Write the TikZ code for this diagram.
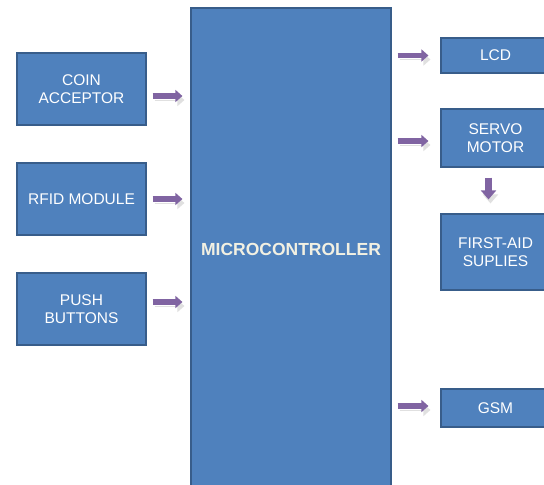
\documentclass[tikz,border=0pt]{standalone}
\usepackage{fontspec}
\setmainfont{Liberation Sans}
\usetikzlibrary{arrows.meta}
\definecolor{boxblue}{HTML}{4F81BD}
\definecolor{boxline}{HTML}{385D8A}
\definecolor{flowpurple}{HTML}{8064A2}
\definecolor{mcutext}{HTML}{F2F0E2}

\tikzset{
  block/.style={draw=boxline,line width=1.2pt,fill=boxblue,text=white,align=center,
    font=\fontsize{15.5}{17.5}\selectfont,inner sep=0pt},
  flow/.style={draw=flowpurple,line width=5.5pt,-{Triangle[width=12pt,length=7pt]},
    preaction={draw=black!12,transform canvas={shift={(2pt,-4pt)}}}}
}

\begin{document}
\begin{tikzpicture}[x=1pt,y=-1pt]
    \fill[white] (0,0) rectangle (544,485);
    \useasboundingbox (0,0) rectangle (544,485);
    % inputs
    \node[block,minimum width=129pt,minimum height=72pt](coin) at (81.5,89) {COIN\\ACCEPTOR};
    \node[block,minimum width=129pt,minimum height=72pt](rfid) at (81.5,199) {RFID MODULE};
    \node[block,minimum width=129pt,minimum height=72pt](push) at (81.5,309) {PUSH\\BUTTONS};
    % controller
    \node[block,minimum width=200pt,minimum height=482pt,text=mcutext,
      font=\fontsize{17.5}{20}\bfseries](mcu) at (291,249) {MICROCONTROLLER};
    % outputs
    \node[block,minimum width=109pt,minimum height=35pt](lcd) at (495.5,55.5) {LCD};
    \node[block,minimum width=109pt,minimum height=58pt](servo) at (495.5,138) {SERVO\\MOTOR};
    \node[block,minimum width=109pt,minimum height=76pt](aid) at (495.5,252) {FIRST-AID\\SUPLIES};
    \node[block,minimum width=109pt,minimum height=38pt](gsm) at (495.5,408) {GSM};
    \draw[flow,shorten <=6pt,shorten >=8pt] ([yshift=-7pt]coin.east) -- ([yshift=-7pt]coin.east -| mcu.west);
    \draw[flow,shorten <=6pt,shorten >=8pt] (rfid.east) -- (rfid.east -| mcu.west);
    \draw[flow,shorten <=6pt,shorten >=8pt] ([yshift=7pt]push.east) -- ([yshift=7pt]push.east -| mcu.west);
    \draw[flow,shorten <=6pt,shorten >=12pt] (lcd.west -| mcu.east) -- (lcd.west);
    \draw[flow,shorten <=6pt,shorten >=12pt] ([yshift=-3pt]servo.west -| mcu.east) -- ([yshift=-3pt]servo.west);
    \draw[flow,shorten <=6pt,shorten >=12pt] ([yshift=2pt]gsm.west -| mcu.east) -- ([yshift=2pt]gsm.west);
    \draw[flow,line width=7pt,-{Triangle[width=15pt,length=9pt]},shorten <=10pt,shorten >=14pt]
      ([xshift=-7pt]servo.south) -- ([xshift=-7pt]aid.north);
  \end{tikzpicture}
\end{document}
